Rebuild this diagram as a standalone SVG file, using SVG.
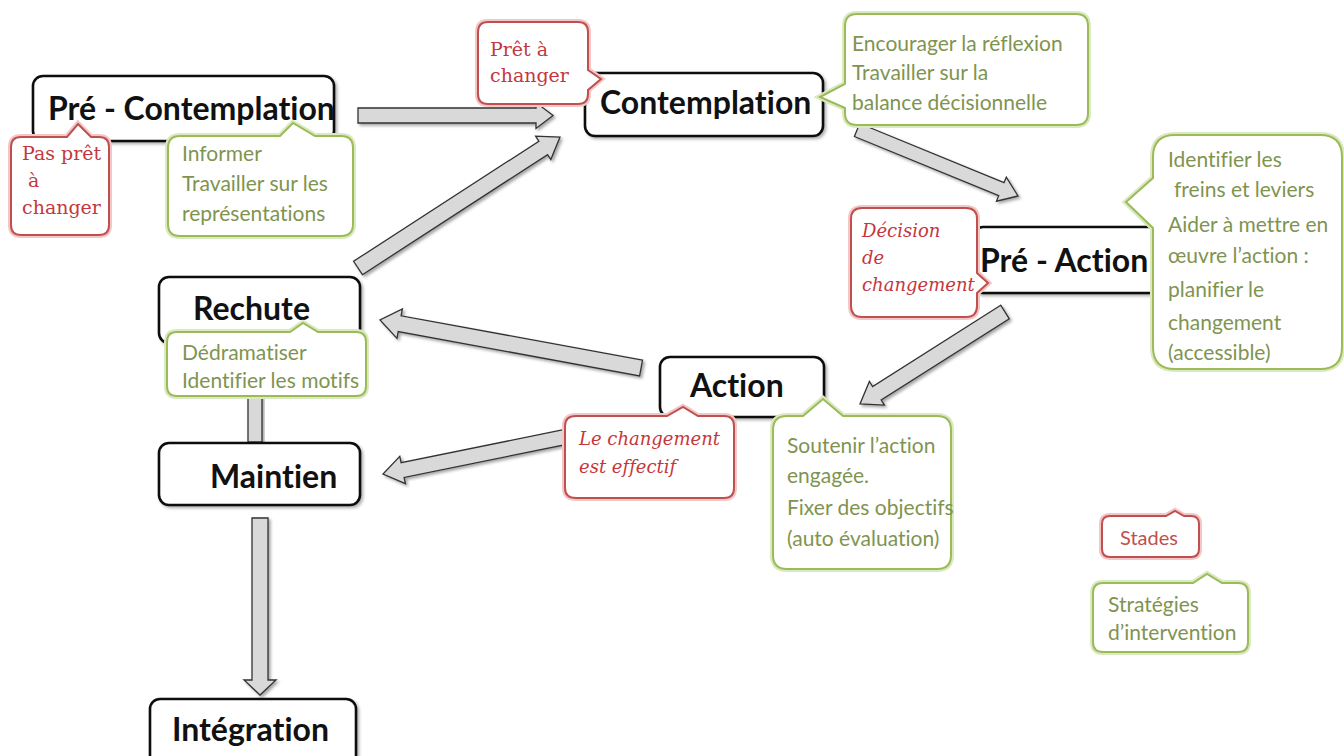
<svg xmlns="http://www.w3.org/2000/svg" xmlns:xlink="http://www.w3.org/1999/xlink" width="1344" height="756" viewBox="0 0 1344 756">
<defs>
<style>
text{font-variant-ligatures:none;font-feature-settings:"liga" 0}
.node rect{fill:#fff;stroke:#111;stroke-width:2.6;filter:url(#sh)}
.lbl{font-family:Lato,"Open Sans","Liberation Sans",sans-serif;font-weight:700;font-size:32px;fill:#111}
.arr{fill:#d9d9d9;stroke:#333;stroke-width:1.3;stroke-linejoin:miter;filter:url(#ash)}
.rglow{fill:none;stroke:#f3c6c8;stroke-width:6}
.rline{fill:#fff;stroke:#c0504d;stroke-width:2}
.gglow{fill:none;stroke:#dbe8c0;stroke-width:6}
.gline{fill:#fff;stroke:#9bbb59;stroke-width:2}
.rt{font-family:"DejaVu Serif","Liberation Serif",serif;font-size:19px;fill:#c4373d}
.rti{font-family:"DejaVu Serif","Liberation Serif",serif;font-style:italic;font-size:18px;fill:#c4373d}
.gt{font-family:Lato,"Open Sans","Liberation Sans",sans-serif;font-size:21px;fill:#7f9450}
.rs{font-family:Lato,"Open Sans","Liberation Sans",sans-serif;font-size:20px;fill:#c0504d}
</style>
<filter id="sh" x="-10%" y="-10%" width="130%" height="140%">
<feDropShadow dx="2" dy="2" stdDeviation="1.5" flood-color="#000" flood-opacity="0.3"/>
</filter>
<filter id="ash" x="-10%" y="-10%" width="130%" height="130%">
<feDropShadow dx="2" dy="2" stdDeviation="1.5" flood-color="#000" flood-opacity="0.35"/>
</filter>
<path id="c-pas" d="M 21,137 L 67,137 L 78,124 L 91,137 L 99,137 Q 109,137 109,147 L 109,225 Q 109,235 99,235 L 21,235 Q 11,235 11,225 L 11,147 Q 11,137 21,137 Z"/>
<path id="c-pret" d="M 488,22 L 578,22 Q 588,22 588,32 L 588,70 L 601,79 L 588,90 L 588,94 Q 588,104 578,104 L 488,104 Q 478,104 478,94 L 478,32 Q 478,22 488,22 Z"/>
<path id="c-dec" d="M 862,208 L 966,208 Q 977,208 977,219 L 977,273 L 988,283 L 977,293 L 977,306 Q 977,317 966,317 L 862,317 Q 851,317 851,306 L 851,219 Q 851,208 862,208 Z"/>
<path id="c-eff" d="M 576,416 L 667,416 L 683,407 L 698,416 L 724,416 Q 734,416 734,426 L 734,488 Q 734,498 724,498 L 576,498 Q 565,498 565,488 L 565,426 Q 565,416 576,416 Z"/>
<path id="c-stades" d="M 1110,516 L 1166,516 L 1175,511 L 1184,516 L 1191,516 Q 1199,516 1199,524 L 1199,549 Q 1199,557 1191,557 L 1110,557 Q 1102,557 1102,549 L 1102,524 Q 1102,516 1110,516 Z"/>
<path id="c-inf" d="M 180,136 L 280,136 L 293,123 L 315,136 L 341,136 Q 353,136 353,148 L 353,224 Q 353,236 341,236 L 180,236 Q 168,236 168,224 L 168,148 Q 168,136 180,136 Z"/>
<path id="c-enc" d="M 857,14 L 1076,14 Q 1088,14 1088,26 L 1088,113 Q 1088,125 1076,125 L 857,125 Q 845,125 845,113 L 845,108 L 820,97 L 845,84 L 845,26 Q 845,14 857,14 Z"/>
<path id="c-ide" d="M 1175,135 L 1320,135 Q 1342,135 1342,157 L 1342,347 Q 1342,369 1320,369 L 1175,369 Q 1153,369 1153,347 L 1153,228 L 1126,202 L 1153,178 L 1153,157 Q 1153,135 1175,135 Z"/>
<path id="c-ded" d="M 177,332 L 290,332 L 303,323 L 318,332 L 356,332 Q 366,332 366,342 L 366,386 Q 366,396 356,396 L 177,396 Q 167,396 167,386 L 167,342 Q 167,332 177,332 Z"/>
<path id="c-sou" d="M 787,416 L 803,416 L 823,399 L 843,416 L 937,416 Q 951,416 951,430 L 951,555 Q 951,569 937,569 L 787,569 Q 773,569 773,555 L 773,430 Q 773,416 787,416 Z"/>
<path id="c-str" d="M 1103,583 L 1193,583 L 1207,574 L 1222,583 L 1238,583 Q 1248,583 1248,593 L 1248,642 Q 1248,652 1238,652 L 1103,652 Q 1093,652 1093,642 L 1093,593 Q 1093,583 1103,583 Z"/>
</defs>
<rect width="1344" height="756" fill="#fff"/>

<g id="connectors">
<polygon class="arr" points="358,108 536,108 536,102.5 553,115.5 536,128.5 536,123 358,123"/>
<polygon class="arr" points="362.4,274.7 547.6,154.6 550.8,159.6 560,137 535.6,136.1 538.9,141.2 353.6,261.3"/>
<polygon class="arr" points="854.4,136.5 998.7,195.7 996.4,201.2 1018,196 1006.3,177.2 1004,182.7 859.7,123.5"/>
<polygon class="arr" points="1000.7,305.2 872.6,386.5 869.4,381.5 860,404 884.4,405.1 881.2,400 1009.3,318.8"/>
<polygon class="arr" points="642.5,360.1 401.1,315.8 402.4,308.9 380,320 397,338.4 398.2,331.5 639.6,375.9"/>
<polygon class="arr" points="563.5,429.7 401.1,462.7 399.8,456.3 383,474 405.4,483.7 404.1,477.4 566.5,444.4"/>
<rect class="arr" x="248" y="395" width="14" height="47"/>
<polygon class="arr" points="252,518 268,518 268,680 276,680 260,695 244,680 252,680"/>
</g>

<g id="node-pre-contemplation" class="node">
<rect x="33" y="76" width="301" height="65" rx="10"/>
<text class="lbl" x="48" y="120">Pré - Contemplation</text>
</g>
<g id="node-contemplation" class="node">
<rect x="585" y="73" width="238" height="63" rx="10"/>
<text class="lbl" x="600" y="114">Contemplation</text>
</g>
<g id="node-pre-action" class="node">
<rect x="973" y="227" width="200" height="66" rx="10"/>
<text class="lbl" x="980" y="272">Pré - Action</text>
</g>
<g id="node-rechute" class="node">
<rect x="159" y="277" width="201" height="66" rx="10"/>
<text class="lbl" x="193" y="320">Rechute</text>
</g>
<g id="node-action" class="node">
<rect x="660" y="357" width="164" height="60" rx="10"/>
<text class="lbl" x="690" y="397">Action</text>
</g>
<g id="node-maintien" class="node">
<rect x="159" y="443" width="201" height="62" rx="10"/>
<text class="lbl" x="210" y="488">Maintien</text>
</g>
<g id="node-integration" class="node">
<rect x="150" y="699" width="206" height="70" rx="10"/>
<text class="lbl" x="172" y="741">Intégration</text>
</g>

<g id="callout-pas-pret">
<use xlink:href="#c-pas" class="rglow"/><use xlink:href="#c-pas" class="rline"/>
<text class="rt" x="22" y="160">Pas prêt</text>
<text class="rt" x="28" y="187">à</text>
<text class="rt" x="22" y="214">changer</text>
</g>
<g id="callout-pret">
<use xlink:href="#c-pret" class="rglow"/><use xlink:href="#c-pret" class="rline"/>
<text class="rt" x="490" y="56">Prêt à</text>
<text class="rt" x="490" y="82">changer</text>
</g>
<g id="callout-decision">
<use xlink:href="#c-dec" class="rglow"/><use xlink:href="#c-dec" class="rline"/>
<text class="rti" x="862" y="237">Décision</text>
<text class="rti" x="862" y="264">de</text>
<text class="rti" x="862" y="291">changement</text>
</g>
<g id="callout-effectif">
<use xlink:href="#c-eff" class="rglow"/><use xlink:href="#c-eff" class="rline"/>
<text class="rti" x="579" y="445">Le changement</text>
<text class="rti" x="579" y="473">est effectif</text>
</g>
<g id="legend-stades">
<use xlink:href="#c-stades" class="rglow"/><use xlink:href="#c-stades" class="rline"/>
<text class="rs" x="1120" y="545">Stades</text>
</g>

<g id="callout-informer">
<use xlink:href="#c-inf" class="gglow"/><use xlink:href="#c-inf" class="gline"/>
<text class="gt" x="182" y="161">Informer</text>
<text class="gt" x="182" y="191">Travailler sur les</text>
<text class="gt" x="182" y="221">représentations</text>
</g>
<g id="callout-encourager">
<use xlink:href="#c-enc" class="gglow"/><use xlink:href="#c-enc" class="gline"/>
<text class="gt" x="852" y="51">Encourager la réflexion</text>
<text class="gt" x="852" y="80">Travailler sur la</text>
<text class="gt" x="852" y="110">balance décisionnelle</text>
</g>
<g id="callout-identifier">
<use xlink:href="#c-ide" class="gglow"/><use xlink:href="#c-ide" class="gline"/>
<text class="gt" x="1168" y="167">Identifier les</text>
<text class="gt" x="1174" y="197">freins et leviers</text>
<text class="gt" x="1168" y="232">Aider à mettre en</text>
<text class="gt" x="1168" y="263">œuvre l’action :</text>
<text class="gt" x="1168" y="297">planifier le</text>
<text class="gt" x="1168" y="330">changement</text>
<text class="gt" x="1168" y="360">(accessible)</text>
</g>
<g id="callout-dedramatiser">
<use xlink:href="#c-ded" class="gglow"/><use xlink:href="#c-ded" class="gline"/>
<text class="gt" x="182" y="360">Dédramatiser</text>
<text class="gt" x="182" y="388">Identifier les motifs</text>
</g>
<g id="callout-soutenir">
<use xlink:href="#c-sou" class="gglow"/><use xlink:href="#c-sou" class="gline"/>
<text class="gt" x="787" y="453">Soutenir l’action</text>
<text class="gt" x="787" y="483">engagée.</text>
<text class="gt" x="787" y="515">Fixer des objectifs</text>
<text class="gt" x="787" y="546">(auto évaluation)</text>
</g>
<g id="legend-strategies">
<use xlink:href="#c-str" class="gglow"/><use xlink:href="#c-str" class="gline"/>
<text class="gt" x="1108" y="612">Stratégies</text>
<text class="gt" x="1108" y="640">d’intervention</text>
</g>
</svg>
